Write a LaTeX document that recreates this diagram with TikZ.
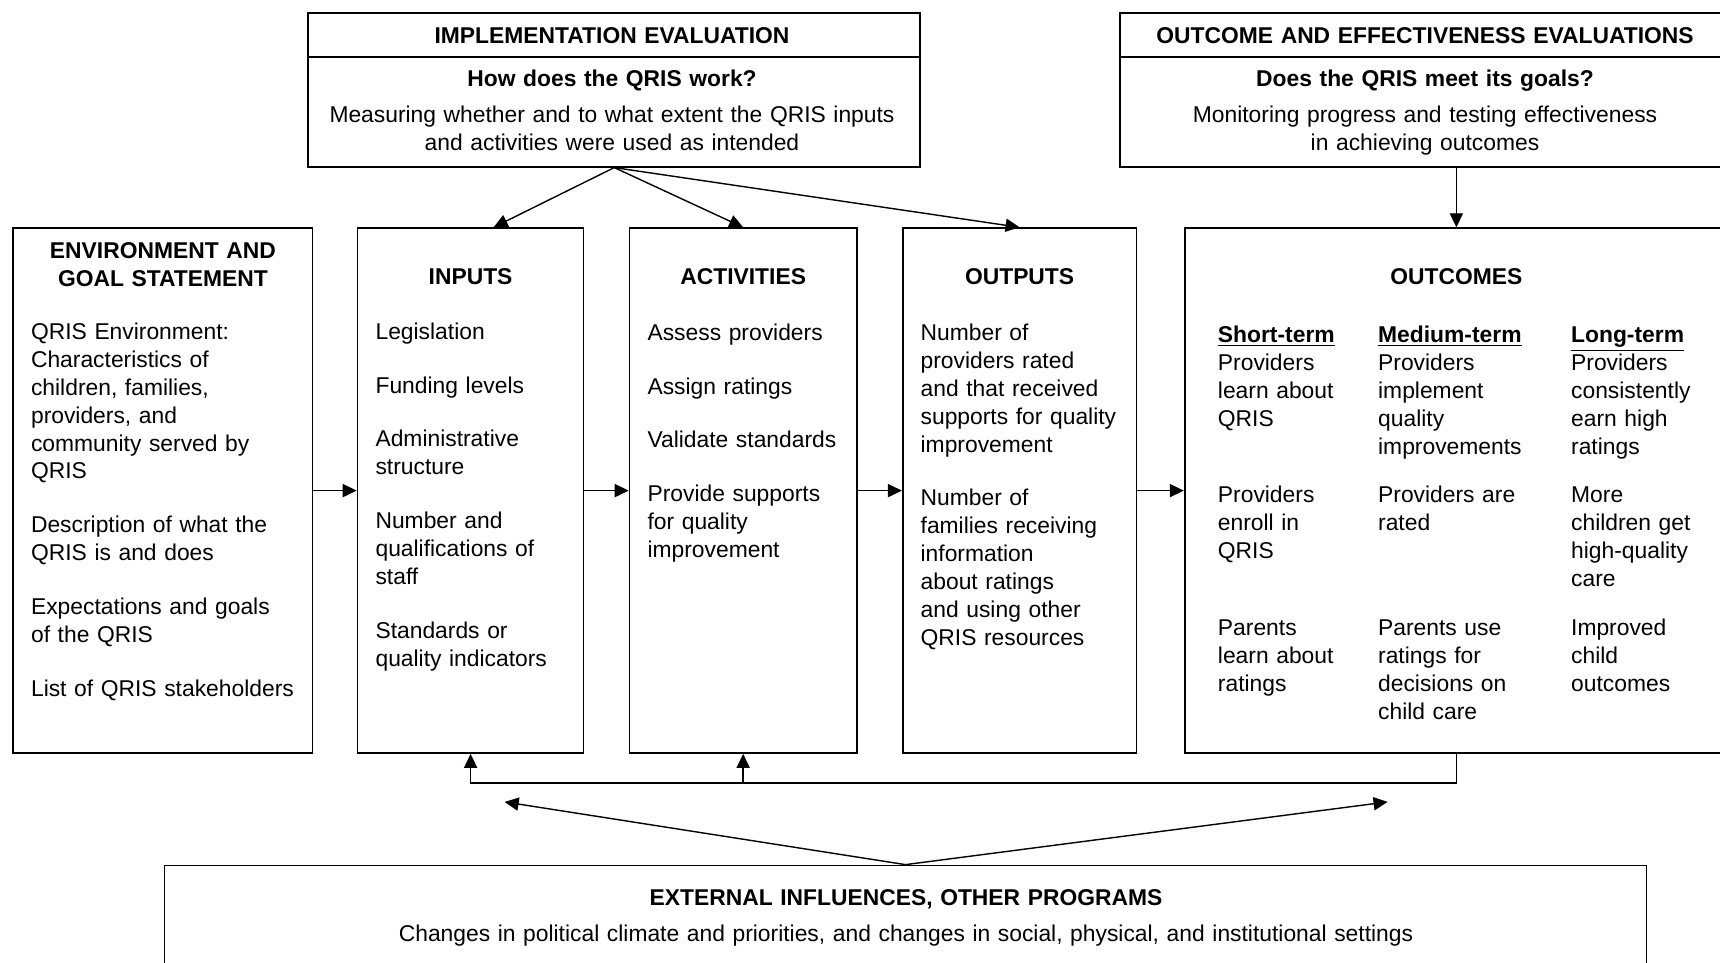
\documentclass[tikz,border=0pt]{standalone}
\usepackage{fontspec}
\setmainfont{Liberation Sans}
\usetikzlibrary{arrows.meta, positioning, fit, calc}

\newcommand{\pgap}{\\[14.7pt]}

\tikzset{
  box/.style={draw, line width=1pt, inner sep=0pt},
  arr/.style={-{Triangle[length=8pt,width=7.5pt]}, line width=0.8pt},
  txt/.style={font=\fontsize{13}{15.9}\selectfont, inner sep=0pt, text width=6cm, align=left, anchor=base west},
  ttl/.style={font=\bfseries\fontsize{13}{15.9}\selectfont, inner sep=0pt, text width=14cm, align=center, anchor=base},
  mid/.style={font=\fontsize{13}{16.2}\selectfont, inner sep=0pt, text width=24cm, align=center, anchor=base}
}

\begin{document}
\begin{tikzpicture}[x=0.02cm, y=-0.02cm]
\useasboundingbox (0,0) rectangle (1720,963);

% evaluations
\node[box, fit={(308.2,13.2) (920.3,57)}] (implhead) {};
\node[box, fit={(308.2,57) (920.3,166.7)}] (impl) {};
\node[ttl] (impltitle) at (612,44) {IMPLEMENTATION EVALUATION};
\node[ttl] (implq) at (612,87) {How does the QRIS work?};
\node[mid] (impltxt) at (612,122) {Measuring whether and to what extent the QRIS inputs\\and activities were used as intended};

\node[box, fit={(1120,13.2) (1730,57)}] (oehead) {};
\node[box, fit={(1120,57) (1730,166.7)}] (oe) {};
\node[ttl] (oetitle) at (1425,44) {OUTCOME AND EFFECTIVENESS EVALUATIONS};
\node[ttl] (oeq) at (1425,87) {Does the QRIS meet its goals?};
\node[mid] (oetxt) at (1425,122) {Monitoring progress and testing effectiveness\\in achieving outcomes};

% logic model boxes
\node[box, fit={(13.2,228.2) (312.6,753)}] (env) {};
\node[box, fit={(357.6,228.2) (583.6,753)}] (inputs) {};
\node[box, fit={(629.6,228.2) (856.7,753)}] (activities) {};
\node[box, fit={(902.8,228.2) (1136.4,753)}] (outputs) {};
\node[box, fit={(1184.7,228.2) (1728,753)}] (outcomes) {};

\node[ttl] (envtitle) at ($(env.north)+(0,31)$) {ENVIRONMENT AND\\GOAL STATEMENT};
\node[ttl] (inputstitle) at ($(inputs.north)+(0,57.3)$) {INPUTS};
\node[ttl] (activitiestitle) at ($(activities.north)+(0,57.3)$) {ACTIVITIES};
\node[ttl] (outputstitle) at ($(outputs.north)+(0,57.3)$) {OUTPUTS};
\node[ttl] (outcomestitle) at ($(outcomes.north)+(0,57.3)$) {OUTCOMES};

\node[txt] (envtxt) at (30.7,339.3) {QRIS Environment:\\Characteristics of\\children, families,\\providers, and\\community served by\\QRIS\pgap Description of what the\\QRIS is and does\pgap Expectations and goals\\of the QRIS\pgap List of QRIS stakeholders};
\node[txt] (inputstxt) at (375.2,339.3) {Legislation\pgap Funding levels\pgap Administrative\\structure\pgap Number and\\qualifications of\\staff\pgap Standards or\\quality indicators};
\node[txt] (activitiestxt) at (647.2,340.4) {Assess providers\pgap Assign ratings\pgap Validate standards\pgap Provide supports\\for quality\\improvement};
\node[txt] (outputstxt) at (920.3,340.4) {Number of\\providers rated\\and that received\\supports for quality\\improvement\pgap Number of\\families receiving\\information\\about ratings\\and using other\\QRIS resources};

% outcome columns
\node[txt] (shortA) at (1217.6,342.6) {\underline{\textbf{Short-term}}\\Providers\\learn about\\QRIS};
\node[txt] (shortB) at (1217.6,502.7) {Providers\\enroll in\\QRIS};
\node[txt] (shortC) at (1217.6,635.5) {Parents\\learn about\\ratings};
\node[txt] (mediumA) at (1377.8,342.6) {\underline{\textbf{Medium-term}}\\Providers\\implement\\quality\\improvements};
\node[txt] (mediumB) at (1377.8,502.7) {Providers are\\rated};
\node[txt] (mediumC) at (1377.8,635.5) {Parents use\\ratings for\\decisions on\\child care};
\node[txt] (longA) at (1570.8,342.6) {\underline{\textbf{Long-term}}\\Providers\\consistently\\earn high\\ratings};
\node[txt] (longB) at (1570.8,502.7) {More\\children get\\high-quality\\care};
\node[txt] (longC) at (1570.8,635.5) {Improved\\child\\outcomes};

% external influences
\node[box, fit={(164.5,865.5) (1646.5,990)}] (ext) {};
\node[ttl] (exttitle) at (906,905) {EXTERNAL INFLUENCES, OTHER PROGRAMS};
\node[mid] (exttxt) at (906,941.5) {Changes in political climate and priorities, and changes in social, physical, and institutional settings};

% connectors
\draw[arr] (env.east) -- (inputs.west);
\draw[arr] (inputs.east) -- (activities.west);
\draw[arr] (activities.east) -- (outputs.west);
\draw[arr] (outputs.east) -- (outcomes.west);

\draw[arr] (impl.south) -- ($(inputs.north)+(23,0)$);
\draw[arr] (impl.south) -- (activities.north);
\draw[arr] (impl.south) -- (outputs.north);
\draw[arr] (oe.south -| outcomes.north) -- (outcomes.north);

\coordinate (fb) at ($(outcomes.south)+(0,29)$);
\draw[arr] (outcomes.south) -- (fb) -| (inputs.south);
\draw[arr] (fb -| activities.south) -- (activities.south);

\coordinate (extl) at (504.6,801.9);
\coordinate (extr) at (1387.6,801.9);
\draw[arr] (ext.north) -- (extl);
\draw[arr] (ext.north) -- (extr);
\end{tikzpicture}
\end{document}
